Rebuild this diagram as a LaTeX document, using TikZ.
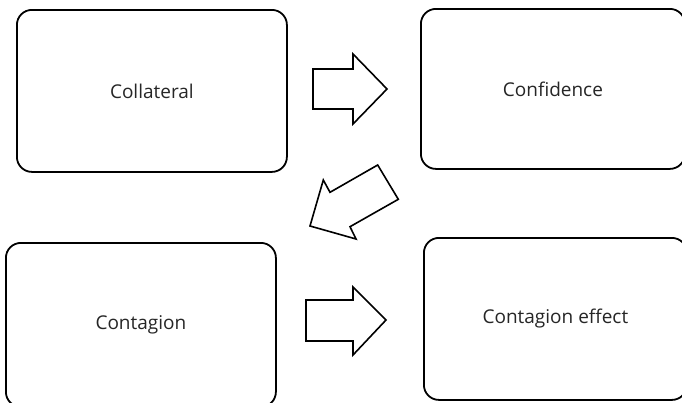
\documentclass[tikz,border=0pt]{standalone}
\usepackage{fontspec}
\setmainfont{Open Sans}
\begin{document}
\begin{tikzpicture}[x=1pt,y=-1pt,
  stage/.style={draw=black, line width=1.8pt, rounded corners=15pt, fill=white,
    anchor=north west, inner sep=0pt, font=\fontsize{19}{22}\selectfont, text=black!85},
  blockarrow/.style={draw=black, line width=1.6pt, fill=white, line join=miter}]
  \useasboundingbox (0,0) rectangle (682,402);
  \clip (0,0) rectangle (682,402);

  % four stages
  \node[stage, minimum width=270pt, minimum height=162pt] (coll) at (16,9) {Collateral};
  \node[stage, minimum width=264pt, minimum height=160pt] (conf) at (420,8) {Confidence};
  \node[stage, minimum width=270pt, minimum height=164pt] (cont) at (5,242) {Contagion};
  \node[stage, minimum width=263pt, minimum height=162pt] (eff) at (423,237) {Contagion effect};

  % block arrows between the stages
  \draw[blockarrow] (313,69) -- (353,69) -- (353,54) -- (387,89) -- (353,124)
    -- (353,109) -- (313,109) -- cycle;
  \draw[blockarrow] (377.7,165) -- (398.3,199.3) -- (350,226.7) -- (356,239)
    -- (310,226) -- (323.3,180) -- (330,192.3) -- cycle;
  \draw[blockarrow] (306,300) -- (353,300) -- (353,287) -- (386,320) -- (353,355)
    -- (353,341) -- (306,341) -- cycle;
\end{tikzpicture}
\end{document}
